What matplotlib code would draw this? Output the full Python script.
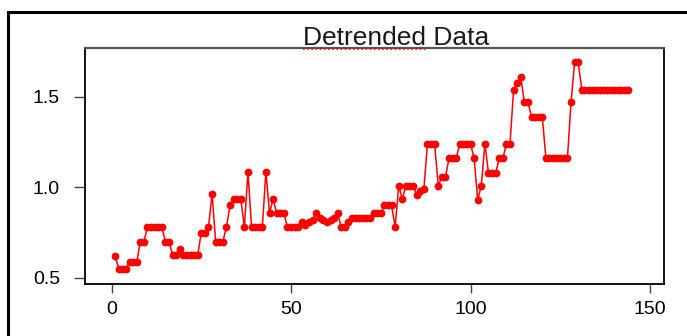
#!/usr/bin/env python3

import numpy as np
import matplotlib
matplotlib.use('Agg')
import matplotlib.pyplot as plt
from matplotlib.lines import Line2D

# data (index 1..144)
levels = [
    (1, 0.62), (3, 0.55), (3, 0.585), (2, 0.70), (5, 0.78), (2, 0.70),
    (2, 0.627), (1, 0.66), (5, 0.627), (2, 0.75), (1, 0.78), (1, 0.965),
    (3, 0.70), (1, 0.78), (1, 0.90), (3, 0.935), (1, 0.78), (1, 1.087),
    (4, 0.78), (1, 1.087), (1, 0.857), (1, 0.935), (3, 0.857), (4, 0.78),
    (1, 0.806), (1, 0.79), (1, 0.806), (1, 0.82), (1, 0.857), (1, 0.83),
    (1, 0.82), (1, 0.806), (1, 0.82), (1, 0.83), (1, 0.857), (2, 0.78),
    (1, 0.806), (6, 0.83), (3, 0.857), (3, 0.90), (1, 0.78), (1, 1.01),
    (1, 0.935), (3, 1.01), (1, 0.96), (1, 0.98), (1, 0.99), (3, 1.24),
    (1, 1.01), (2, 1.055), (3, 1.16), (4, 1.24), (1, 1.16), (1, 0.93),
    (1, 1.01), (1, 1.24), (3, 1.08), (2, 1.16), (2, 1.24), (1, 1.54),
    (1, 1.575), (1, 1.61), (2, 1.47), (4, 1.39), (7, 1.16), (1, 1.47),
    (2, 1.69), (14, 1.54),
]
values = [v for n, v in levels for _ in range(n)]
index = np.arange(1, len(values) + 1)

x_ticks = [0, 50, 100, 150]
y_ticks = [0.5, 1.0, 1.5]
y_ticklabels = ['0.5', '1.0', '1.5']
title = 'Detrended Data'

plt.rcParams['font.family'] = ['Liberation Sans', 'DejaVu Sans']

W, H = 687, 336
fig = plt.figure(figsize=(W / 100, H / 100), dpi=100)
ax = fig.add_axes([85 / W, 1 - 284 / H, (664 - 85) / W, (284 - 48) / H])

ax.plot(index, values, color='red', lw=1.1, marker='o', markersize=5.6,
        markeredgewidth=0)

ax.set_xlim(-7.4, 153.9)
ax.set_ylim(0.466, 1.770)

ax.set_xticks(x_ticks)
ax.set_yticks(y_ticks)
ax.set_yticklabels(y_ticklabels)
ax.tick_params(axis='x', length=6.5, width=1.0, pad=6, labelsize=14, color='#444444')
ax.tick_params(axis='y', length=8, width=1.0, pad=10, labelsize=14, color='#444444')

for s in ['left', 'bottom', 'right']:
    ax.spines[s].set_linewidth(1.3)
    ax.spines[s].set_color('black')
ax.spines['top'].set_linewidth(1.6)
ax.spines['top'].set_color('#555555')

# title sitting right on the box
t = fig.text(396 / W, 1 - 45 / H, title, ha='center', va='baseline', fontsize=19,
             color='#1a1a1a')

# spell-check underline under the first word
fig.canvas.draw()
renderer = fig.canvas.get_renderer()
bb = t.get_window_extent(renderer)
tmp = fig.text(bb.x0 / W, 0, title.split()[0], fontsize=19)
bb2 = tmp.get_window_extent(renderer)
tmp.remove()
yline = 1 - 49 / H
fig.add_artist(Line2D([bb.x0 / W, (bb.x0 + bb2.width) / W], [yline, yline],
                      transform=fig.transFigure, color='red', lw=1.2,
                      linestyle=(0, (1, 1.5))))

# outer frame of the screenshot
fig.add_artist(Line2D([8 / W, 8 / W], [1 - 12 / H, 0], transform=fig.transFigure,
                      color='black', lw=2.2))
fig.add_artist(Line2D([8 / W, 1], [1 - 12 / H, 1 - 12 / H], transform=fig.transFigure,
                      color='black', lw=2.2))

fig.savefig('out.png', dpi=100)
